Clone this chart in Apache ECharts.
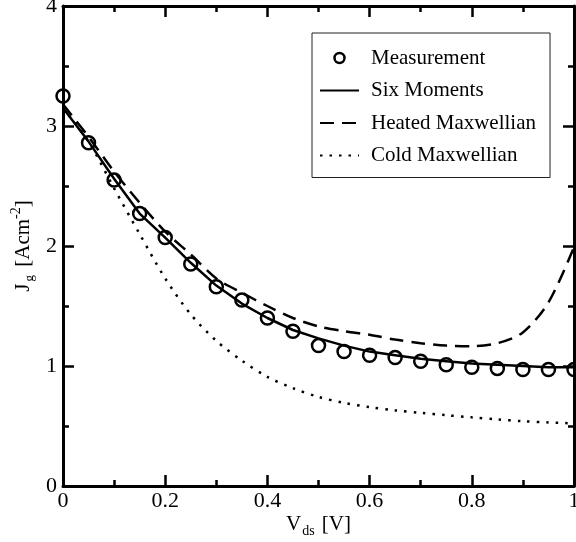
<!DOCTYPE html>
<html lang="en">
<head>
<meta charset="UTF-8">
<title>Jg vs Vds</title>
<script src="https://cdn.jsdelivr.net/npm/echarts@6/dist/echarts.min.js"></script>
<style>
  html, body { margin: 0; padding: 0; background: #fff; }
</style>
</head>
<body>
<div id="main" style="width: 576px; height: 542px;"></div>
<script>
  // drain voltage samples [V]
  var vds = [0, 0.05, 0.1, 0.15, 0.2, 0.25, 0.3, 0.35, 0.4, 0.45, 0.5,
             0.55, 0.6, 0.65, 0.7, 0.75, 0.8, 0.85, 0.9, 0.95, 1.0];
  // gate current density [A cm^-2]
  var measurement = [3.25, 2.86, 2.55, 2.27, 2.07, 1.85, 1.66, 1.55, 1.40, 1.29, 1.17,
                     1.12, 1.09, 1.07, 1.04, 1.01, 0.99, 0.98, 0.97, 0.97, 0.97];
  var sixMoments = [3.15, 2.87, 2.56, 2.27, 2.07, 1.86, 1.67, 1.52, 1.40, 1.30, 1.23,
                    1.17, 1.12, 1.09, 1.06, 1.04, 1.02, 1.01, 1.00, 0.99, 0.99];
  var heatedMaxwellian = [3.18, 2.91, 2.62, 2.36, 2.12, 1.93, 1.73, 1.61, 1.50, 1.40, 1.33,
                          1.29, 1.26, 1.22, 1.19, 1.17, 1.165, 1.19, 1.28, 1.53, 1.99];
  var coldMaxwellian = [3.15, 2.87, 2.48, 2.10, 1.73, 1.43, 1.21, 1.045, 0.91, 0.815, 0.742,
                        0.693, 0.657, 0.63, 0.61, 0.59, 0.572, 0.555, 0.54, 0.53, 0.522];

  function pairs(ys) {
    return vds.map(function (x, i) { return [x, ys[i]]; });
  }

  var font = 'Liberation Serif';
  var black = '#000';

  var tickStyle = { color: black, width: 2.5 };

  function axisBase(extra) {
    var base = {
      type: 'value',
      axisLine: { show: true, onZero: false, lineStyle: { color: black, width: 3 } },
      axisTick: { inside: true, length: 11, lineStyle: tickStyle },
      minorTick: { show: true, splitNumber: 2, length: 6, lineStyle: tickStyle },
      splitLine: { show: false },
      axisLabel: { fontFamily: font, fontSize: 22, color: black }
    };
    return Object.assign(base, extra);
  }

  var myChart = echarts.init(document.getElementById('main'), null, { renderer: 'canvas' });

  // line entries in the legend: hide the marker, keep the stroke
  var noMarker = { opacity: 0 };
  var ring = { color: 'rgba(0,0,0,0)', borderColor: black, borderWidth: 2.5, opacity: 1 };

  var option = {
    animation: false,
    backgroundColor: '#fff',
    grid: { left: 63, right: 2, top: 6, bottom: 56, containLabel: false, outerBoundsMode: 'none' },
    legend: {
      orient: 'vertical',
      left: 312,
      top: 33,
      backgroundColor: '#fff',
      borderColor: '#222',
      borderWidth: 1,
      borderRadius: 0,
      padding: [14, 14, 11, 7],
      itemWidth: 39,
      itemHeight: 10,
      itemGap: 10.5,
      textStyle: { fontFamily: font, fontSize: 21, color: black, lineHeight: 22, padding: [0, 0, 0, 7] },
      data: [
        { name: 'Measurement', icon: 'circle', itemStyle: ring },
        { name: 'Six Moments', itemStyle: noMarker },
        { name: 'Heated Maxwellian', itemStyle: noMarker },
        { name: 'Cold Maxwellian', itemStyle: noMarker }
      ]
    },
    xAxis: [
      axisBase({
        min: 0, max: 1, interval: 0.2, position: 'bottom',
        axisLabel: { fontFamily: font, fontSize: 22, color: black, margin: 4 },
        name: '{a|V}{b|ds}{a| [V]}',
        nameLocation: 'middle',
        nameGap: 24,
        nameMoveOverlap: false,
        nameTextStyle: {
          fontFamily: font, fontSize: 21, color: black,
          rich: {
            a: { fontFamily: font, fontSize: 21, color: black },
            b: { fontFamily: font, fontSize: 14, color: black, padding: [14, 2, 0, 1] }
          }
        }
      }),
      axisBase({
        min: 0, max: 1, interval: 0.2, position: 'top',
        axisLabel: { show: false }
      })
    ],
    yAxis: [
      axisBase({
        min: 0, max: 4, interval: 1, position: 'left',
        axisLabel: { fontFamily: font, fontSize: 22, color: black, margin: 6 },
        name: '{a|J}{b|g}{a| [Acm}{c|-2}{a|]}',
        nameLocation: 'middle',
        nameRotate: 90,
        nameGap: 26,
        nameMoveOverlap: false,
        nameTextStyle: {
          fontFamily: font, fontSize: 21, color: black,
          rich: {
            a: { fontFamily: font, fontSize: 21, color: black },
            b: { fontFamily: font, fontSize: 13, color: black, padding: [14, 3, 0, 2] },
            c: { fontFamily: font, fontSize: 14, color: black, padding: [0, 0, 14, 0] }
          }
        }
      }),
      axisBase({
        min: 0, max: 4, interval: 1, position: 'right',
        axisLabel: { show: false }
      })
    ],
    series: [
      {
        name: 'Measurement',
        type: 'scatter',
        symbol: 'circle',
        symbolSize: 13,
        itemStyle: ring,
        z: 5,
        data: pairs(measurement)
      },
      {
        name: 'Six Moments',
        type: 'line',
        symbol: 'none',
        lineStyle: { color: black, width: 2.5, type: 'solid' },
        itemStyle: { color: black },
        data: pairs(sixMoments)
      },
      {
        name: 'Heated Maxwellian',
        type: 'line',
        symbol: 'none',
        smooth: 0.3,
        lineStyle: { color: black, width: 2.5, type: [14, 8] },
        itemStyle: { color: black },
        data: pairs(heatedMaxwellian)
      },
      {
        name: 'Cold Maxwellian',
        type: 'line',
        symbol: 'none',
        smooth: 0.3,
        lineStyle: { color: black, width: 2.5, type: [2.5, 7], cap: 'butt' },
        itemStyle: { color: black },
        data: pairs(coldMaxwellian)
      }
    ]
  };

  myChart.setOption(option);
</script>
</body>
</html>
